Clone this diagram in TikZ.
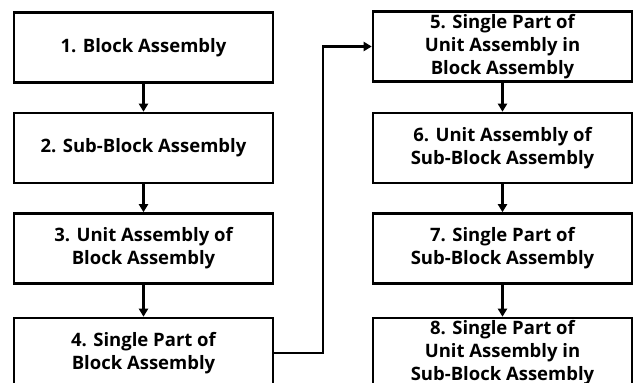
\documentclass[tikz,border=0pt]{standalone}
\usepackage{fontspec}
\setmainfont{Open Sans}
\usetikzlibrary{arrows.meta}
\tikzset{
  box/.style={draw=black, line width=2.6pt, fill=white, minimum width=259pt, minimum height=70pt,
    inner sep=0pt, align=center, font=\bfseries\fontsize{18.5}{23}\selectfont},
  link/.style={line width=2.6pt, -{Triangle[length=8pt,width=9pt]}}
}
\begin{document}
\begin{tikzpicture}[x=1pt,y=-1pt]
\useasboundingbox (0,0) rectangle (635,383);
\node[box] (b1) at (143.5,47.5) {1. Block Assembly};
\node[box] (b2) at (143.5,148) {2. Sub-Block Assembly};
\node[box] (b3) at (143.5,248.5) {3. Unit Assembly of\\Block Assembly};
\node[box] (b4) at (143.5,353) {4. Single Part of\\Block Assembly};
\node[box] (b5) at (502.5,46.5) {5. Single Part of\\Unit Assembly in\\Block Assembly};
\node[box] (b6) at (502.5,148) {6. Unit Assembly of\\Sub-Block Assembly};
\node[box] (b7) at (502.5,248.5) {7. Single Part of\\Sub-Block Assembly};
\node[box] (b8) at (502.5,353) {8. Single Part of\\Unit Assembly in\\Sub-Block Assembly};
\coordinate (m) at (323,353);
\draw[link] (b1) -- (b2);
\draw[link] (b2) -- (b3);
\draw[link] (b3) -- (b4);
\draw[link] (b5) -- (b6);
\draw[link] (b6) -- (b7);
\draw[link] (b7) -- (b8);
\draw[link] (b4.east) -- (m) |- (b5.west);
\end{tikzpicture}
\end{document}
